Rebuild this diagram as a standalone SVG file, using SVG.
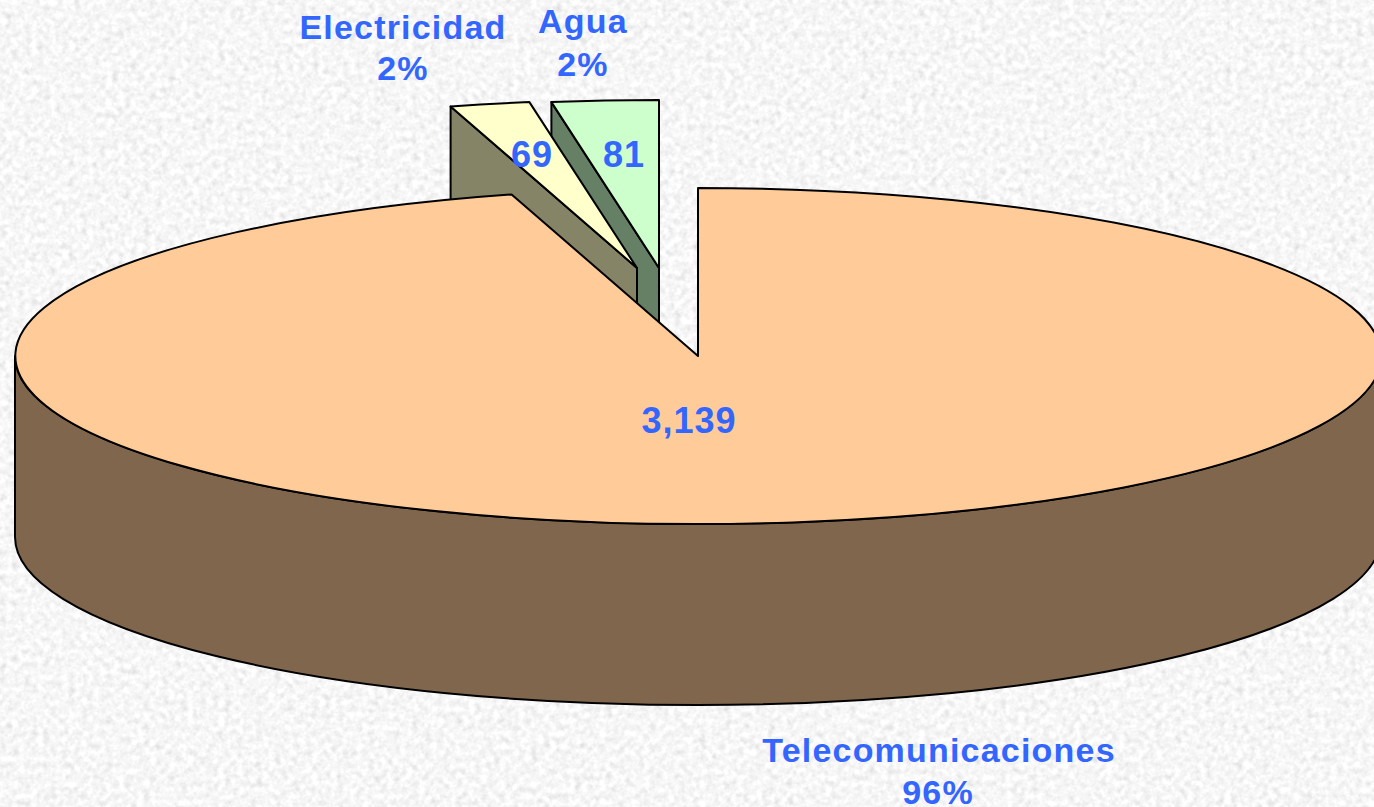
<svg xmlns="http://www.w3.org/2000/svg" width="1374" height="807" viewBox="0 0 1374 807">
  <defs>
    <filter id="tex" x="0" y="0" width="1374" height="807" filterUnits="userSpaceOnUse">
      <feTurbulence type="fractalNoise" baseFrequency="0.16" numOctaves="3" seed="7" result="n"/>
      <feColorMatrix in="n" type="matrix" values="0.33 0.33 0.33 0 0  0.33 0.33 0.33 0 0  0.33 0.33 0.33 0 0  0 0 0 0 1" result="g"/>
      <feComponentTransfer in="g">
        <feFuncR type="linear" slope="0.7" intercept="0.58"/>
        <feFuncG type="linear" slope="0.7" intercept="0.58"/>
        <feFuncB type="linear" slope="0.7" intercept="0.58"/>
      </feComponentTransfer>
    </filter>
    <style>
      .edge { stroke: #000; stroke-width: 2; stroke-linejoin: round; }
      .lbl { font-family: "Liberation Sans", Arial, sans-serif; font-weight: bold; fill: #3366FF; text-anchor: middle; }
      .cat { font-size: 34px; letter-spacing: 1.2px; }
      .val { font-size: 36px; letter-spacing: 1px; }
    </style>
  </defs>

  <rect x="0" y="0" width="1374" height="807" fill="#e9e9e9"/>
  <rect x="0" y="0" width="1374" height="807" filter="url(#tex)"/>

  <g id="agua">
    <path class="edge" fill="#668066" d="M551.4 102.1 L659 268 L659 449 L551.4 283 Z"/>
    <path class="edge" fill="#CCFFCC" d="M659 268 L551.4 102.1 A683 168 0 0 1 659 100 Z"/>
  </g>

  <g id="electricidad">
    <path class="edge" fill="#868466" d="M450.6 106.4 L637 268 L637 449 L450.6 287.4 Z"/>
    <path class="edge" fill="#FFFFCC" d="M637 268 L450.6 106.4 A683 168 0 0 1 529.4 102.1 Z"/>
  </g>

  <g id="telecomunicaciones">
    <path class="edge" fill="#7F664C" d="M15 356 A683 168 0 0 0 1381 356 L1381 537 A683 168 0 0 1 15 537 Z"/>
    <path class="edge" fill="#FFCC99" d="M698 356 L698 188 A683 168 0 1 1 511.6 194.4 Z"/>
  </g>

  <g id="labels">
    <text class="lbl cat" x="403" y="39">Electricidad</text>
    <text class="lbl cat" x="403" y="80">2%</text>
    <text class="lbl cat" x="583" y="33">Agua</text>
    <text class="lbl cat" x="583" y="76">2%</text>
    <text class="lbl cat" x="939" y="762">Telecomunicaciones</text>
    <text class="lbl cat" x="938" y="804">96%</text>
    <text class="lbl val" x="532" y="167">69</text>
    <text class="lbl val" x="624" y="167">81</text>
    <text class="lbl val" x="689" y="433">3,139</text>
  </g>
</svg>
